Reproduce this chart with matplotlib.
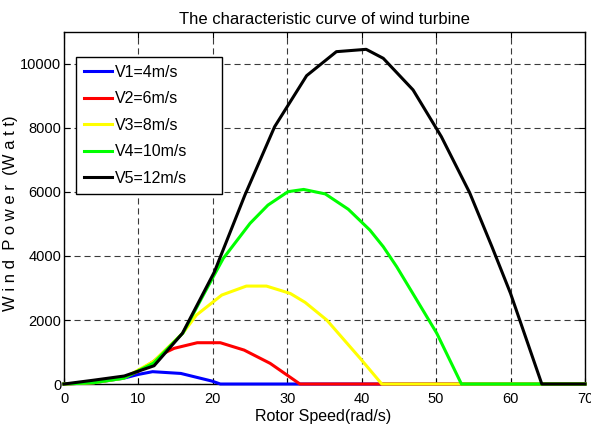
import numpy as np
import matplotlib
matplotlib.use("Agg")
import matplotlib.pyplot as plt

plt.rcParams['font.family'] = ['Liberation Sans', 'DejaVu Sans']

# rotor speed (rad/s) / wind power (W)
x_v1 = [0, 4, 8, 10, 11.9, 15.7, 19.9, 21, 70]
p_v1 = [0, 40, 180, 300, 385, 330, 90, 0, 0]

x_v2 = [0, 4, 8, 10, 12, 13.4, 14.8, 17.9, 21, 24.2, 27.7, 31.7, 70]
p_v2 = [0, 40, 200, 400, 700, 960, 1115, 1290, 1290, 1060, 645, 0, 0]

x_v3 = [0, 4, 8, 12, 16, 17.8, 21.2, 24.5, 27.2, 30.4, 32.4, 35.3, 39.8, 42.7, 70]
p_v3 = [0, 40, 180, 700, 1600, 2155, 2780, 3060, 3060, 2830, 2550, 2000, 800, 0, 0]

x_v4 = [0, 4, 8, 12, 16, 19, 21.4, 25, 27.4, 30.1, 32.2, 35.1, 38.2, 41.1, 42.9,
        44.7, 47.4, 50.1, 53.4, 70]
p_v4 = [0, 40, 180, 650, 1600, 2900, 3925, 5020, 5590, 6010, 6080, 5940, 5460,
        4810, 4290, 3665, 2625, 1580, 0, 0]

x_v5 = [0, 4, 8.1, 12.1, 15.9, 20.2, 24.3, 28.3, 32.6, 36.6, 40.6, 42.9, 46.9,
        50.7, 54.5, 57.5, 60, 64.2, 70]
p_v5 = [0, 120, 250, 570, 1580, 3500, 5900, 8040, 9635, 10385, 10458, 10177,
        9190, 7730, 5980, 4290, 2830, 0, 0]

labels = ['V1=4m/s', 'V2=6m/s', 'V3=8m/s', 'V4=10m/s', 'V5=12m/s']
colors = ['#0000ff', '#ff0000', '#ffff00', '#00ff00', '#000000']

fig = plt.figure(figsize=(5.91, 4.34), dpi=100)
ax = fig.add_axes([0.1083, 0.1152, 0.8815, 0.8111])

curves = [(x_v1, p_v1), (x_v2, p_v2), (x_v3, p_v3), (x_v4, p_v4), (x_v5, p_v5)]
for (xs, ps), lab, c in zip(curves, labels, colors):
    ax.plot(xs, ps, color=c, lw=2.2, label=lab, clip_on=False, zorder=3)

ax.set_xlim(0, 70)
ax.set_ylim(0, 11000)
ax.set_xticks(np.arange(0, 71, 10))
ax.set_yticks(np.arange(0, 10001, 2000))
ax.grid(True, color='#3a3a3a', linestyle=(0, (5.5, 3.5)), linewidth=0.8)
ax.tick_params(direction='in', top=True, right=True, labelsize=10.5, length=4)
ax.tick_params(axis='x', pad=6)
ax.tick_params(axis='y', pad=2)
for s in ax.spines.values():
    s.set_linewidth(1.0)

ax.set_title('The characteristic curve of wind turbine', fontsize=12, pad=6)
ax.set_xlabel('Rotor Speed(rad/s)', fontsize=11.5)
ax.set_ylabel('W i n d  P o w e r  (W a t t)', fontsize=12)
ax.xaxis.set_label_coords(0.497, -0.072)
ax.yaxis.set_label_coords(-0.088, 0.486)

# MATLAB-style legend box, wider than its text
leg = ax.legend(loc='upper left', bbox_to_anchor=(0.023, 0.543, 0.280, 0.386),
                mode='expand', fontsize=11.5,
                fancybox=False, framealpha=1, edgecolor='black',
                handlelength=1.75, handletextpad=0.2, labelspacing=0.72,
                borderpad=0.5, borderaxespad=0)
leg.get_frame().set_linewidth(1.0)

plt.savefig('out.png', dpi=100)
